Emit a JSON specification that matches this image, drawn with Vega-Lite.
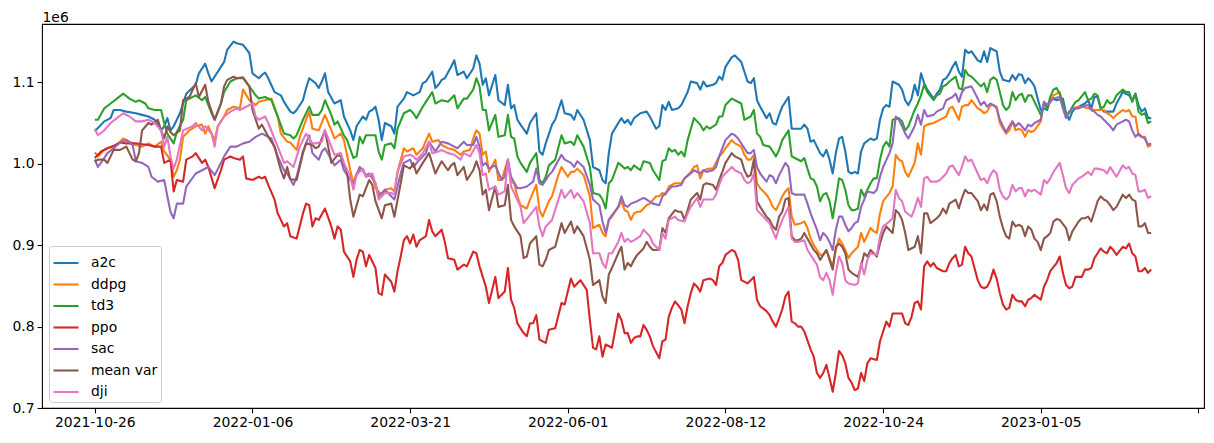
{
"$schema": "https://vega.github.io/schema/vega-lite/v6.json",
"width": 1162, "height": 384,
"autosize": "none",
"padding": {"left": 42, "top": 24, "right": 10, "bottom": 35},
"background": "white",
"config": {"view": {"stroke": "#000", "strokeWidth": 1.1}, "font": "DejaVu Sans"},
"data": {"values": [
{"s":"a2c","i":0,"v":1.040},{"s":"a2c","i":3,"v":1.052},{"s":"a2c","i":5,"v":1.056},{"s":"a2c","i":6,"v":1.066},{"s":"a2c","i":8,"v":1.066},{"s":"a2c","i":10,"v":1.064},{"s":"a2c","i":13,"v":1.062},{"s":"a2c","i":15,"v":1.060},{"s":"a2c","i":17,"v":1.058},{"s":"a2c","i":19,"v":1.054},{"s":"a2c","i":21,"v":1.041},{"s":"a2c","i":22,"v":1.046},{"s":"a2c","i":23,"v":1.056},{"s":"a2c","i":24,"v":1.041},{"s":"a2c","i":25,"v":1.046},{"s":"a2c","i":27,"v":1.062},{"s":"a2c","i":29,"v":1.086},{"s":"a2c","i":32,"v":1.097},{"s":"a2c","i":33,"v":1.111},{"s":"a2c","i":35,"v":1.123},{"s":"a2c","i":36,"v":1.111},{"s":"a2c","i":37,"v":1.101},{"s":"a2c","i":40,"v":1.119},{"s":"a2c","i":41,"v":1.125},{"s":"a2c","i":42,"v":1.140},{"s":"a2c","i":44,"v":1.150},{"s":"a2c","i":45,"v":1.148},{"s":"a2c","i":47,"v":1.146},{"s":"a2c","i":49,"v":1.136},{"s":"a2c","i":50,"v":1.111},{"s":"a2c","i":52,"v":1.105},{"s":"a2c","i":53,"v":1.109},{"s":"a2c","i":54,"v":1.112},{"s":"a2c","i":55,"v":1.105},{"s":"a2c","i":57,"v":1.088},{"s":"a2c","i":59,"v":1.084},{"s":"a2c","i":60,"v":1.076},{"s":"a2c","i":62,"v":1.064},{"s":"a2c","i":63,"v":1.062},{"s":"a2c","i":64,"v":1.066},{"s":"a2c","i":66,"v":1.078},{"s":"a2c","i":67,"v":1.093},{"s":"a2c","i":68,"v":1.105},{"s":"a2c","i":70,"v":1.099},{"s":"a2c","i":71,"v":1.093},{"s":"a2c","i":72,"v":1.101},{"s":"a2c","i":73,"v":1.111},{"s":"a2c","i":74,"v":1.088},{"s":"a2c","i":76,"v":1.074},{"s":"a2c","i":78,"v":1.078},{"s":"a2c","i":79,"v":1.058},{"s":"a2c","i":81,"v":1.041},{"s":"a2c","i":82,"v":1.029},{"s":"a2c","i":83,"v":1.046},{"s":"a2c","i":85,"v":1.058},{"s":"a2c","i":86,"v":1.054},{"s":"a2c","i":87,"v":1.064},{"s":"a2c","i":88,"v":1.066},{"s":"a2c","i":89,"v":1.070},{"s":"a2c","i":90,"v":1.054},{"s":"a2c","i":91,"v":1.029},{"s":"a2c","i":92,"v":1.050},{"s":"a2c","i":94,"v":1.046},{"s":"a2c","i":95,"v":1.037},{"s":"a2c","i":96,"v":1.070},{"s":"a2c","i":98,"v":1.080},{"s":"a2c","i":99,"v":1.088},{"s":"a2c","i":101,"v":1.084},{"s":"a2c","i":103,"v":1.088},{"s":"a2c","i":104,"v":1.099},{"s":"a2c","i":105,"v":1.101},{"s":"a2c","i":107,"v":1.113},{"s":"a2c","i":108,"v":1.093},{"s":"a2c","i":109,"v":1.097},{"s":"a2c","i":110,"v":1.103},{"s":"a2c","i":111,"v":1.105},{"s":"a2c","i":113,"v":1.119},{"s":"a2c","i":114,"v":1.127},{"s":"a2c","i":115,"v":1.109},{"s":"a2c","i":117,"v":1.113},{"s":"a2c","i":118,"v":1.105},{"s":"a2c","i":120,"v":1.117},{"s":"a2c","i":121,"v":1.133},{"s":"a2c","i":122,"v":1.123},{"s":"a2c","i":123,"v":1.097},{"s":"a2c","i":124,"v":1.105},{"s":"a2c","i":125,"v":1.084},{"s":"a2c","i":127,"v":1.109},{"s":"a2c","i":128,"v":1.078},{"s":"a2c","i":130,"v":1.072},{"s":"a2c","i":131,"v":1.097},{"s":"a2c","i":132,"v":1.068},{"s":"a2c","i":133,"v":1.072},{"s":"a2c","i":134,"v":1.054},{"s":"a2c","i":135,"v":1.048},{"s":"a2c","i":137,"v":1.037},{"s":"a2c","i":138,"v":1.050},{"s":"a2c","i":140,"v":1.062},{"s":"a2c","i":141,"v":1.015},{"s":"a2c","i":142,"v":1.011},{"s":"a2c","i":143,"v":1.025},{"s":"a2c","i":145,"v":1.048},{"s":"a2c","i":146,"v":1.054},{"s":"a2c","i":148,"v":1.078},{"s":"a2c","i":149,"v":1.062},{"s":"a2c","i":151,"v":1.060},{"s":"a2c","i":152,"v":1.054},{"s":"a2c","i":153,"v":1.066},{"s":"a2c","i":155,"v":1.054},{"s":"a2c","i":157,"v":1.029},{"s":"a2c","i":158,"v":0.996},{"s":"a2c","i":160,"v":0.992},{"s":"a2c","i":161,"v":0.980},{"s":"a2c","i":162,"v":0.976},{"s":"a2c","i":163,"v":1.013},{"s":"a2c","i":164,"v":1.037},{"s":"a2c","i":166,"v":1.050},{"s":"a2c","i":167,"v":1.056},{"s":"a2c","i":168,"v":1.050},{"s":"a2c","i":169,"v":1.054},{"s":"a2c","i":170,"v":1.048},{"s":"a2c","i":171,"v":1.056},{"s":"a2c","i":173,"v":1.062},{"s":"a2c","i":175,"v":1.064},{"s":"a2c","i":176,"v":1.058},{"s":"a2c","i":178,"v":1.043},{"s":"a2c","i":179,"v":1.046},{"s":"a2c","i":180,"v":1.072},{"s":"a2c","i":181,"v":1.066},{"s":"a2c","i":182,"v":1.076},{"s":"a2c","i":183,"v":1.066},{"s":"a2c","i":185,"v":1.068},{"s":"a2c","i":186,"v":1.072},{"s":"a2c","i":188,"v":1.088},{"s":"a2c","i":189,"v":1.101},{"s":"a2c","i":191,"v":1.099},{"s":"a2c","i":192,"v":1.091},{"s":"a2c","i":193,"v":1.101},{"s":"a2c","i":194,"v":1.095},{"s":"a2c","i":196,"v":1.097},{"s":"a2c","i":197,"v":1.099},{"s":"a2c","i":198,"v":1.107},{"s":"a2c","i":199,"v":1.103},{"s":"a2c","i":200,"v":1.119},{"s":"a2c","i":202,"v":1.131},{"s":"a2c","i":203,"v":1.133},{"s":"a2c","i":204,"v":1.129},{"s":"a2c","i":205,"v":1.125},{"s":"a2c","i":206,"v":1.113},{"s":"a2c","i":207,"v":1.101},{"s":"a2c","i":208,"v":1.099},{"s":"a2c","i":209,"v":1.105},{"s":"a2c","i":210,"v":1.078},{"s":"a2c","i":211,"v":1.070},{"s":"a2c","i":213,"v":1.056},{"s":"a2c","i":214,"v":1.062},{"s":"a2c","i":215,"v":1.050},{"s":"a2c","i":216,"v":1.048},{"s":"a2c","i":217,"v":1.060},{"s":"a2c","i":218,"v":1.070},{"s":"a2c","i":220,"v":1.082},{"s":"a2c","i":221,"v":1.043},{"s":"a2c","i":222,"v":1.043},{"s":"a2c","i":224,"v":1.043},{"s":"a2c","i":225,"v":1.048},{"s":"a2c","i":226,"v":1.043},{"s":"a2c","i":227,"v":1.027},{"s":"a2c","i":228,"v":1.029},{"s":"a2c","i":229,"v":1.021},{"s":"a2c","i":230,"v":1.013},{"s":"a2c","i":231,"v":1.009},{"s":"a2c","i":232,"v":1.017},{"s":"a2c","i":233,"v":1.005},{"s":"a2c","i":234,"v":0.988},{"s":"a2c","i":235,"v":1.013},{"s":"a2c","i":236,"v":1.031},{"s":"a2c","i":237,"v":1.033},{"s":"a2c","i":238,"v":1.015},{"s":"a2c","i":239,"v":0.990},{"s":"a2c","i":240,"v":0.988},{"s":"a2c","i":241,"v":0.990},{"s":"a2c","i":242,"v":0.988},{"s":"a2c","i":243,"v":1.015},{"s":"a2c","i":244,"v":1.025},{"s":"a2c","i":246,"v":1.031},{"s":"a2c","i":247,"v":1.029},{"s":"a2c","i":248,"v":1.031},{"s":"a2c","i":249,"v":1.054},{"s":"a2c","i":250,"v":1.068},{"s":"a2c","i":251,"v":1.072},{"s":"a2c","i":252,"v":1.070},{"s":"a2c","i":253,"v":1.101},{"s":"a2c","i":255,"v":1.097},{"s":"a2c","i":256,"v":1.091},{"s":"a2c","i":257,"v":1.078},{"s":"a2c","i":258,"v":1.072},{"s":"a2c","i":259,"v":1.080},{"s":"a2c","i":260,"v":1.097},{"s":"a2c","i":261,"v":1.084},{"s":"a2c","i":262,"v":1.111},{"s":"a2c","i":263,"v":1.099},{"s":"a2c","i":264,"v":1.091},{"s":"a2c","i":266,"v":1.080},{"s":"a2c","i":267,"v":1.086},{"s":"a2c","i":268,"v":1.091},{"s":"a2c","i":269,"v":1.103},{"s":"a2c","i":270,"v":1.105},{"s":"a2c","i":271,"v":1.111},{"s":"a2c","i":272,"v":1.119},{"s":"a2c","i":273,"v":1.125},{"s":"a2c","i":274,"v":1.113},{"s":"a2c","i":275,"v":1.107},{"s":"a2c","i":276,"v":1.140},{"s":"a2c","i":277,"v":1.136},{"s":"a2c","i":278,"v":1.138},{"s":"a2c","i":280,"v":1.127},{"s":"a2c","i":281,"v":1.125},{"s":"a2c","i":282,"v":1.138},{"s":"a2c","i":283,"v":1.125},{"s":"a2c","i":284,"v":1.142},{"s":"a2c","i":285,"v":1.140},{"s":"a2c","i":286,"v":1.138},{"s":"a2c","i":287,"v":1.113},{"s":"a2c","i":288,"v":1.103},{"s":"a2c","i":290,"v":1.101},{"s":"a2c","i":291,"v":1.109},{"s":"a2c","i":292,"v":1.103},{"s":"a2c","i":293,"v":1.110},{"s":"a2c","i":294,"v":1.109},{"s":"a2c","i":295,"v":1.099},{"s":"a2c","i":296,"v":1.105},{"s":"a2c","i":297,"v":1.101},{"s":"a2c","i":298,"v":1.095},{"s":"a2c","i":299,"v":1.080},{"s":"a2c","i":300,"v":1.066},{"s":"a2c","i":301,"v":1.068},{"s":"a2c","i":302,"v":1.066},{"s":"a2c","i":303,"v":1.078},{"s":"a2c","i":304,"v":1.080},{"s":"a2c","i":305,"v":1.078},{"s":"a2c","i":307,"v":1.080},{"s":"a2c","i":308,"v":1.062},{"s":"a2c","i":309,"v":1.054},{"s":"a2c","i":310,"v":1.064},{"s":"a2c","i":311,"v":1.068},{"s":"a2c","i":312,"v":1.070},{"s":"a2c","i":314,"v":1.074},{"s":"a2c","i":315,"v":1.078},{"s":"a2c","i":316,"v":1.068},{"s":"a2c","i":317,"v":1.082},{"s":"a2c","i":318,"v":1.082},{"s":"a2c","i":319,"v":1.068},{"s":"a2c","i":320,"v":1.064},{"s":"a2c","i":321,"v":1.064},{"s":"a2c","i":322,"v":1.064},{"s":"a2c","i":323,"v":1.064},{"s":"a2c","i":324,"v":1.074},{"s":"a2c","i":326,"v":1.088},{"s":"a2c","i":327,"v":1.086},{"s":"a2c","i":328,"v":1.084},{"s":"a2c","i":329,"v":1.078},{"s":"a2c","i":330,"v":1.086},{"s":"a2c","i":331,"v":1.072},{"s":"a2c","i":332,"v":1.064},{"s":"a2c","i":333,"v":1.068},{"s":"a2c","i":334,"v":1.056},{"s":"a2c","i":335,"v":1.056},

{"s":"ddpg","i":0,"v":1.014},{"s":"ddpg","i":1,"v":1.009},{"s":"ddpg","i":3,"v":1.017},{"s":"ddpg","i":4,"v":1.019},{"s":"ddpg","i":6,"v":1.021},{"s":"ddpg","i":8,"v":1.027},{"s":"ddpg","i":9,"v":1.031},{"s":"ddpg","i":11,"v":1.027},{"s":"ddpg","i":13,"v":1.023},{"s":"ddpg","i":15,"v":1.021},{"s":"ddpg","i":17,"v":1.025},{"s":"ddpg","i":19,"v":1.021},{"s":"ddpg","i":21,"v":1.027},{"s":"ddpg","i":22,"v":1.015},{"s":"ddpg","i":24,"v":1.005},{"s":"ddpg","i":25,"v":0.984},{"s":"ddpg","i":26,"v":0.992},{"s":"ddpg","i":27,"v":1.005},{"s":"ddpg","i":28,"v":1.033},{"s":"ddpg","i":30,"v":1.041},{"s":"ddpg","i":32,"v":1.046},{"s":"ddpg","i":34,"v":1.048},{"s":"ddpg","i":35,"v":1.037},{"s":"ddpg","i":36,"v":1.046},{"s":"ddpg","i":38,"v":1.029},{"s":"ddpg","i":39,"v":1.046},{"s":"ddpg","i":41,"v":1.058},{"s":"ddpg","i":42,"v":1.066},{"s":"ddpg","i":44,"v":1.070},{"s":"ddpg","i":46,"v":1.068},{"s":"ddpg","i":47,"v":1.091},{"s":"ddpg","i":49,"v":1.078},{"s":"ddpg","i":51,"v":1.072},{"s":"ddpg","i":52,"v":1.076},{"s":"ddpg","i":54,"v":1.078},{"s":"ddpg","i":56,"v":1.080},{"s":"ddpg","i":58,"v":1.058},{"s":"ddpg","i":59,"v":1.037},{"s":"ddpg","i":61,"v":1.027},{"s":"ddpg","i":62,"v":1.026},{"s":"ddpg","i":64,"v":1.017},{"s":"ddpg","i":65,"v":1.033},{"s":"ddpg","i":67,"v":1.054},{"s":"ddpg","i":68,"v":1.064},{"s":"ddpg","i":69,"v":1.043},{"s":"ddpg","i":71,"v":1.041},{"s":"ddpg","i":73,"v":1.060},{"s":"ddpg","i":75,"v":1.041},{"s":"ddpg","i":76,"v":1.031},{"s":"ddpg","i":78,"v":1.037},{"s":"ddpg","i":79,"v":1.029},{"s":"ddpg","i":81,"v":0.992},{"s":"ddpg","i":82,"v":0.976},{"s":"ddpg","i":83,"v":0.988},{"s":"ddpg","i":85,"v":0.994},{"s":"ddpg","i":86,"v":0.984},{"s":"ddpg","i":88,"v":0.986},{"s":"ddpg","i":89,"v":0.970},{"s":"ddpg","i":91,"v":0.962},{"s":"ddpg","i":92,"v":0.968},{"s":"ddpg","i":94,"v":0.970},{"s":"ddpg","i":95,"v":0.966},{"s":"ddpg","i":96,"v":0.990},{"s":"ddpg","i":98,"v":1.019},{"s":"ddpg","i":99,"v":1.015},{"s":"ddpg","i":101,"v":1.019},{"s":"ddpg","i":102,"v":1.011},{"s":"ddpg","i":104,"v":1.019},{"s":"ddpg","i":106,"v":1.037},{"s":"ddpg","i":107,"v":1.027},{"s":"ddpg","i":109,"v":1.029},{"s":"ddpg","i":110,"v":1.023},{"s":"ddpg","i":112,"v":1.019},{"s":"ddpg","i":114,"v":1.017},{"s":"ddpg","i":116,"v":1.011},{"s":"ddpg","i":117,"v":1.015},{"s":"ddpg","i":119,"v":1.017},{"s":"ddpg","i":120,"v":1.031},{"s":"ddpg","i":121,"v":1.041},{"s":"ddpg","i":122,"v":1.037},{"s":"ddpg","i":123,"v":1.011},{"s":"ddpg","i":124,"v":1.015},{"s":"ddpg","i":125,"v":0.990},{"s":"ddpg","i":127,"v":1.005},{"s":"ddpg","i":128,"v":0.980},{"s":"ddpg","i":129,"v":0.980},{"s":"ddpg","i":131,"v":1.005},{"s":"ddpg","i":132,"v":0.978},{"s":"ddpg","i":133,"v":0.976},{"s":"ddpg","i":134,"v":0.960},{"s":"ddpg","i":135,"v":0.949},{"s":"ddpg","i":137,"v":0.945},{"s":"ddpg","i":138,"v":0.956},{"s":"ddpg","i":140,"v":0.974},{"s":"ddpg","i":141,"v":0.943},{"s":"ddpg","i":142,"v":0.935},{"s":"ddpg","i":144,"v":0.954},{"s":"ddpg","i":145,"v":0.960},{"s":"ddpg","i":147,"v":0.986},{"s":"ddpg","i":148,"v":0.996},{"s":"ddpg","i":150,"v":0.984},{"s":"ddpg","i":151,"v":0.990},{"s":"ddpg","i":152,"v":0.990},{"s":"ddpg","i":153,"v":0.994},{"s":"ddpg","i":155,"v":0.986},{"s":"ddpg","i":157,"v":0.960},{"s":"ddpg","i":158,"v":0.921},{"s":"ddpg","i":160,"v":0.925},{"s":"ddpg","i":161,"v":0.915},{"s":"ddpg","i":162,"v":0.911},{"s":"ddpg","i":163,"v":0.931},{"s":"ddpg","i":164,"v":0.935},{"s":"ddpg","i":166,"v":0.947},{"s":"ddpg","i":167,"v":0.954},{"s":"ddpg","i":168,"v":0.943},{"s":"ddpg","i":169,"v":0.941},{"s":"ddpg","i":170,"v":0.931},{"s":"ddpg","i":171,"v":0.939},{"s":"ddpg","i":172,"v":0.941},{"s":"ddpg","i":173,"v":0.941},{"s":"ddpg","i":175,"v":0.949},{"s":"ddpg","i":176,"v":0.951},{"s":"ddpg","i":178,"v":0.960},{"s":"ddpg","i":179,"v":0.960},{"s":"ddpg","i":180,"v":0.964},{"s":"ddpg","i":181,"v":0.962},{"s":"ddpg","i":182,"v":0.972},{"s":"ddpg","i":183,"v":0.974},{"s":"ddpg","i":184,"v":0.976},{"s":"ddpg","i":186,"v":0.976},{"s":"ddpg","i":187,"v":0.982},{"s":"ddpg","i":189,"v":0.990},{"s":"ddpg","i":190,"v":0.996},{"s":"ddpg","i":191,"v":0.998},{"s":"ddpg","i":192,"v":0.982},{"s":"ddpg","i":193,"v":0.992},{"s":"ddpg","i":195,"v":0.994},{"s":"ddpg","i":196,"v":0.994},{"s":"ddpg","i":198,"v":1.009},{"s":"ddpg","i":199,"v":1.013},{"s":"ddpg","i":200,"v":1.019},{"s":"ddpg","i":202,"v":1.029},{"s":"ddpg","i":203,"v":1.025},{"s":"ddpg","i":205,"v":1.021},{"s":"ddpg","i":206,"v":1.011},{"s":"ddpg","i":207,"v":1.005},{"s":"ddpg","i":208,"v":1.005},{"s":"ddpg","i":209,"v":1.011},{"s":"ddpg","i":210,"v":0.976},{"s":"ddpg","i":211,"v":0.970},{"s":"ddpg","i":213,"v":0.962},{"s":"ddpg","i":214,"v":0.956},{"s":"ddpg","i":215,"v":0.947},{"s":"ddpg","i":216,"v":0.943},{"s":"ddpg","i":217,"v":0.951},{"s":"ddpg","i":218,"v":0.960},{"s":"ddpg","i":219,"v":0.966},{"s":"ddpg","i":220,"v":0.970},{"s":"ddpg","i":221,"v":0.935},{"s":"ddpg","i":222,"v":0.925},{"s":"ddpg","i":224,"v":0.927},{"s":"ddpg","i":225,"v":0.929},{"s":"ddpg","i":226,"v":0.921},{"s":"ddpg","i":227,"v":0.908},{"s":"ddpg","i":228,"v":0.900},{"s":"ddpg","i":229,"v":0.894},{"s":"ddpg","i":230,"v":0.888},{"s":"ddpg","i":231,"v":0.888},{"s":"ddpg","i":232,"v":0.894},{"s":"ddpg","i":233,"v":0.884},{"s":"ddpg","i":234,"v":0.874},{"s":"ddpg","i":235,"v":0.894},{"s":"ddpg","i":236,"v":0.908},{"s":"ddpg","i":237,"v":0.902},{"s":"ddpg","i":238,"v":0.894},{"s":"ddpg","i":239,"v":0.884},{"s":"ddpg","i":240,"v":0.890},{"s":"ddpg","i":241,"v":0.894},{"s":"ddpg","i":242,"v":0.898},{"s":"ddpg","i":243,"v":0.915},{"s":"ddpg","i":244,"v":0.904},{"s":"ddpg","i":246,"v":0.921},{"s":"ddpg","i":247,"v":0.917},{"s":"ddpg","i":248,"v":0.915},{"s":"ddpg","i":249,"v":0.939},{"s":"ddpg","i":250,"v":0.954},{"s":"ddpg","i":252,"v":0.964},{"s":"ddpg","i":253,"v":0.972},{"s":"ddpg","i":254,"v":1.011},{"s":"ddpg","i":255,"v":1.005},{"s":"ddpg","i":256,"v":1.003},{"s":"ddpg","i":257,"v":0.990},{"s":"ddpg","i":258,"v":0.984},{"s":"ddpg","i":260,"v":1.001},{"s":"ddpg","i":261,"v":1.025},{"s":"ddpg","i":262,"v":1.011},{"s":"ddpg","i":263,"v":1.046},{"s":"ddpg","i":264,"v":1.048},{"s":"ddpg","i":266,"v":1.050},{"s":"ddpg","i":267,"v":1.052},{"s":"ddpg","i":269,"v":1.056},{"s":"ddpg","i":270,"v":1.058},{"s":"ddpg","i":271,"v":1.068},{"s":"ddpg","i":272,"v":1.070},{"s":"ddpg","i":274,"v":1.054},{"s":"ddpg","i":275,"v":1.070},{"s":"ddpg","i":276,"v":1.072},{"s":"ddpg","i":277,"v":1.072},{"s":"ddpg","i":278,"v":1.078},{"s":"ddpg","i":280,"v":1.068},{"s":"ddpg","i":281,"v":1.066},{"s":"ddpg","i":282,"v":1.062},{"s":"ddpg","i":283,"v":1.064},{"s":"ddpg","i":284,"v":1.072},{"s":"ddpg","i":285,"v":1.072},{"s":"ddpg","i":286,"v":1.070},{"s":"ddpg","i":287,"v":1.050},{"s":"ddpg","i":288,"v":1.043},{"s":"ddpg","i":289,"v":1.037},{"s":"ddpg","i":290,"v":1.041},{"s":"ddpg","i":291,"v":1.052},{"s":"ddpg","i":292,"v":1.041},{"s":"ddpg","i":293,"v":1.043},{"s":"ddpg","i":294,"v":1.041},{"s":"ddpg","i":295,"v":1.033},{"s":"ddpg","i":296,"v":1.041},{"s":"ddpg","i":297,"v":1.039},{"s":"ddpg","i":298,"v":1.041},{"s":"ddpg","i":300,"v":1.052},{"s":"ddpg","i":301,"v":1.076},{"s":"ddpg","i":302,"v":1.070},{"s":"ddpg","i":303,"v":1.076},{"s":"ddpg","i":304,"v":1.084},{"s":"ddpg","i":306,"v":1.088},{"s":"ddpg","i":307,"v":1.072},{"s":"ddpg","i":308,"v":1.058},{"s":"ddpg","i":309,"v":1.064},{"s":"ddpg","i":310,"v":1.068},{"s":"ddpg","i":312,"v":1.070},{"s":"ddpg","i":313,"v":1.070},{"s":"ddpg","i":315,"v":1.068},{"s":"ddpg","i":317,"v":1.066},{"s":"ddpg","i":318,"v":1.066},{"s":"ddpg","i":320,"v":1.066},{"s":"ddpg","i":321,"v":1.062},{"s":"ddpg","i":322,"v":1.060},{"s":"ddpg","i":323,"v":1.056},{"s":"ddpg","i":324,"v":1.060},{"s":"ddpg","i":326,"v":1.066},{"s":"ddpg","i":327,"v":1.064},{"s":"ddpg","i":328,"v":1.066},{"s":"ddpg","i":329,"v":1.058},{"s":"ddpg","i":330,"v":1.058},{"s":"ddpg","i":331,"v":1.035},{"s":"ddpg","i":332,"v":1.033},{"s":"ddpg","i":333,"v":1.033},{"s":"ddpg","i":334,"v":1.021},{"s":"ddpg","i":335,"v":1.023},

{"s":"td3","i":0,"v":1.054},{"s":"td3","i":1,"v":1.054},{"s":"td3","i":3,"v":1.068},{"s":"td3","i":5,"v":1.074},{"s":"td3","i":7,"v":1.080},{"s":"td3","i":9,"v":1.086},{"s":"td3","i":11,"v":1.080},{"s":"td3","i":13,"v":1.076},{"s":"td3","i":14,"v":1.078},{"s":"td3","i":16,"v":1.074},{"s":"td3","i":17,"v":1.068},{"s":"td3","i":19,"v":1.066},{"s":"td3","i":21,"v":1.066},{"s":"td3","i":22,"v":1.050},{"s":"td3","i":23,"v":1.037},{"s":"td3","i":25,"v":1.025},{"s":"td3","i":26,"v":1.039},{"s":"td3","i":28,"v":1.054},{"s":"td3","i":29,"v":1.078},{"s":"td3","i":32,"v":1.084},{"s":"td3","i":34,"v":1.078},{"s":"td3","i":35,"v":1.082},{"s":"td3","i":37,"v":1.062},{"s":"td3","i":38,"v":1.054},{"s":"td3","i":40,"v":1.074},{"s":"td3","i":41,"v":1.088},{"s":"td3","i":43,"v":1.101},{"s":"td3","i":45,"v":1.105},{"s":"td3","i":47,"v":1.105},{"s":"td3","i":49,"v":1.095},{"s":"td3","i":51,"v":1.084},{"s":"td3","i":52,"v":1.080},{"s":"td3","i":54,"v":1.082},{"s":"td3","i":56,"v":1.078},{"s":"td3","i":58,"v":1.058},{"s":"td3","i":60,"v":1.037},{"s":"td3","i":62,"v":1.035},{"s":"td3","i":63,"v":1.031},{"s":"td3","i":64,"v":1.035},{"s":"td3","i":66,"v":1.054},{"s":"td3","i":68,"v":1.070},{"s":"td3","i":69,"v":1.060},{"s":"td3","i":71,"v":1.060},{"s":"td3","i":72,"v":1.066},{"s":"td3","i":73,"v":1.078},{"s":"td3","i":75,"v":1.060},{"s":"td3","i":76,"v":1.048},{"s":"td3","i":77,"v":1.052},{"s":"td3","i":79,"v":1.035},{"s":"td3","i":80,"v":1.029},{"s":"td3","i":82,"v":1.007},{"s":"td3","i":83,"v":1.009},{"s":"td3","i":84,"v":1.033},{"s":"td3","i":85,"v":1.025},{"s":"td3","i":86,"v":1.035},{"s":"td3","i":88,"v":1.035},{"s":"td3","i":89,"v":1.035},{"s":"td3","i":90,"v":1.015},{"s":"td3","i":91,"v":1.005},{"s":"td3","i":92,"v":1.023},{"s":"td3","i":94,"v":1.025},{"s":"td3","i":95,"v":1.019},{"s":"td3","i":96,"v":1.043},{"s":"td3","i":98,"v":1.062},{"s":"td3","i":100,"v":1.066},{"s":"td3","i":101,"v":1.062},{"s":"td3","i":102,"v":1.056},{"s":"td3","i":104,"v":1.070},{"s":"td3","i":105,"v":1.076},{"s":"td3","i":107,"v":1.088},{"s":"td3","i":108,"v":1.074},{"s":"td3","i":109,"v":1.076},{"s":"td3","i":110,"v":1.078},{"s":"td3","i":112,"v":1.076},{"s":"td3","i":113,"v":1.080},{"s":"td3","i":114,"v":1.084},{"s":"td3","i":115,"v":1.068},{"s":"td3","i":117,"v":1.080},{"s":"td3","i":118,"v":1.080},{"s":"td3","i":120,"v":1.091},{"s":"td3","i":121,"v":1.105},{"s":"td3","i":122,"v":1.095},{"s":"td3","i":123,"v":1.066},{"s":"td3","i":124,"v":1.066},{"s":"td3","i":125,"v":1.041},{"s":"td3","i":127,"v":1.060},{"s":"td3","i":128,"v":1.033},{"s":"td3","i":130,"v":1.035},{"s":"td3","i":131,"v":1.060},{"s":"td3","i":132,"v":1.033},{"s":"td3","i":133,"v":1.031},{"s":"td3","i":134,"v":1.009},{"s":"td3","i":135,"v":1.001},{"s":"td3","i":137,"v":0.990},{"s":"td3","i":138,"v":1.001},{"s":"td3","i":140,"v":1.013},{"s":"td3","i":141,"v":0.980},{"s":"td3","i":142,"v":0.976},{"s":"td3","i":143,"v":0.984},{"s":"td3","i":144,"v":0.998},{"s":"td3","i":146,"v":1.005},{"s":"td3","i":148,"v":1.035},{"s":"td3","i":149,"v":1.025},{"s":"td3","i":151,"v":1.027},{"s":"td3","i":152,"v":1.023},{"s":"td3","i":153,"v":1.035},{"s":"td3","i":155,"v":1.021},{"s":"td3","i":157,"v":0.996},{"s":"td3","i":158,"v":0.964},{"s":"td3","i":160,"v":0.962},{"s":"td3","i":161,"v":0.956},{"s":"td3","i":162,"v":0.945},{"s":"td3","i":163,"v":0.976},{"s":"td3","i":164,"v":0.980},{"s":"td3","i":166,"v":1.001},{"s":"td3","i":167,"v":0.998},{"s":"td3","i":168,"v":0.994},{"s":"td3","i":169,"v":0.996},{"s":"td3","i":170,"v":0.992},{"s":"td3","i":171,"v":0.998},{"s":"td3","i":173,"v":0.992},{"s":"td3","i":174,"v":1.003},{"s":"td3","i":176,"v":1.001},{"s":"td3","i":177,"v":0.992},{"s":"td3","i":179,"v":0.980},{"s":"td3","i":180,"v":1.003},{"s":"td3","i":181,"v":1.005},{"s":"td3","i":182,"v":1.019},{"s":"td3","i":183,"v":1.015},{"s":"td3","i":184,"v":1.017},{"s":"td3","i":185,"v":1.011},{"s":"td3","i":186,"v":1.015},{"s":"td3","i":187,"v":1.009},{"s":"td3","i":188,"v":1.029},{"s":"td3","i":190,"v":1.056},{"s":"td3","i":192,"v":1.048},{"s":"td3","i":193,"v":1.041},{"s":"td3","i":194,"v":1.046},{"s":"td3","i":195,"v":1.043},{"s":"td3","i":197,"v":1.048},{"s":"td3","i":198,"v":1.058},{"s":"td3","i":199,"v":1.058},{"s":"td3","i":200,"v":1.072},{"s":"td3","i":202,"v":1.080},{"s":"td3","i":203,"v":1.078},{"s":"td3","i":205,"v":1.074},{"s":"td3","i":206,"v":1.054},{"s":"td3","i":208,"v":1.058},{"s":"td3","i":209,"v":1.066},{"s":"td3","i":210,"v":1.037},{"s":"td3","i":211,"v":1.033},{"s":"td3","i":212,"v":1.023},{"s":"td3","i":214,"v":1.021},{"s":"td3","i":215,"v":1.015},{"s":"td3","i":216,"v":1.009},{"s":"td3","i":217,"v":1.017},{"s":"td3","i":218,"v":1.029},{"s":"td3","i":220,"v":1.041},{"s":"td3","i":221,"v":1.009},{"s":"td3","i":222,"v":1.007},{"s":"td3","i":224,"v":1.003},{"s":"td3","i":225,"v":1.007},{"s":"td3","i":226,"v":0.994},{"s":"td3","i":227,"v":0.982},{"s":"td3","i":228,"v":0.980},{"s":"td3","i":229,"v":0.972},{"s":"td3","i":230,"v":0.954},{"s":"td3","i":231,"v":0.962},{"s":"td3","i":232,"v":0.964},{"s":"td3","i":233,"v":0.954},{"s":"td3","i":234,"v":0.933},{"s":"td3","i":235,"v":0.956},{"s":"td3","i":236,"v":0.982},{"s":"td3","i":237,"v":0.980},{"s":"td3","i":238,"v":0.968},{"s":"td3","i":239,"v":0.949},{"s":"td3","i":240,"v":0.943},{"s":"td3","i":241,"v":0.943},{"s":"td3","i":242,"v":0.945},{"s":"td3","i":243,"v":0.968},{"s":"td3","i":244,"v":0.960},{"s":"td3","i":246,"v":0.976},{"s":"td3","i":247,"v":0.982},{"s":"td3","i":248,"v":0.982},{"s":"td3","i":249,"v":1.005},{"s":"td3","i":250,"v":1.021},{"s":"td3","i":251,"v":1.027},{"s":"td3","i":252,"v":1.021},{"s":"td3","i":253,"v":1.054},{"s":"td3","i":255,"v":1.056},{"s":"td3","i":256,"v":1.052},{"s":"td3","i":257,"v":1.041},{"s":"td3","i":258,"v":1.046},{"s":"td3","i":260,"v":1.066},{"s":"td3","i":261,"v":1.074},{"s":"td3","i":262,"v":1.084},{"s":"td3","i":263,"v":1.097},{"s":"td3","i":264,"v":1.088},{"s":"td3","i":266,"v":1.078},{"s":"td3","i":267,"v":1.084},{"s":"td3","i":268,"v":1.086},{"s":"td3","i":269,"v":1.095},{"s":"td3","i":270,"v":1.097},{"s":"td3","i":271,"v":1.101},{"s":"td3","i":273,"v":1.107},{"s":"td3","i":274,"v":1.093},{"s":"td3","i":275,"v":1.091},{"s":"td3","i":276,"v":1.115},{"s":"td3","i":277,"v":1.109},{"s":"td3","i":278,"v":1.107},{"s":"td3","i":280,"v":1.099},{"s":"td3","i":281,"v":1.095},{"s":"td3","i":282,"v":1.099},{"s":"td3","i":283,"v":1.088},{"s":"td3","i":284,"v":1.103},{"s":"td3","i":285,"v":1.106},{"s":"td3","i":286,"v":1.103},{"s":"td3","i":287,"v":1.088},{"s":"td3","i":288,"v":1.072},{"s":"td3","i":289,"v":1.066},{"s":"td3","i":290,"v":1.070},{"s":"td3","i":291,"v":1.088},{"s":"td3","i":292,"v":1.078},{"s":"td3","i":293,"v":1.084},{"s":"td3","i":294,"v":1.086},{"s":"td3","i":295,"v":1.076},{"s":"td3","i":296,"v":1.084},{"s":"td3","i":297,"v":1.084},{"s":"td3","i":298,"v":1.076},{"s":"td3","i":300,"v":1.060},{"s":"td3","i":301,"v":1.074},{"s":"td3","i":302,"v":1.068},{"s":"td3","i":303,"v":1.082},{"s":"td3","i":304,"v":1.091},{"s":"td3","i":305,"v":1.093},{"s":"td3","i":306,"v":1.086},{"s":"td3","i":307,"v":1.072},{"s":"td3","i":308,"v":1.060},{"s":"td3","i":309,"v":1.062},{"s":"td3","i":310,"v":1.070},{"s":"td3","i":311,"v":1.076},{"s":"td3","i":312,"v":1.078},{"s":"td3","i":314,"v":1.088},{"s":"td3","i":315,"v":1.078},{"s":"td3","i":316,"v":1.080},{"s":"td3","i":317,"v":1.086},{"s":"td3","i":318,"v":1.084},{"s":"td3","i":319,"v":1.068},{"s":"td3","i":320,"v":1.070},{"s":"td3","i":321,"v":1.078},{"s":"td3","i":322,"v":1.074},{"s":"td3","i":323,"v":1.076},{"s":"td3","i":324,"v":1.084},{"s":"td3","i":326,"v":1.091},{"s":"td3","i":327,"v":1.088},{"s":"td3","i":328,"v":1.088},{"s":"td3","i":329,"v":1.076},{"s":"td3","i":330,"v":1.086},{"s":"td3","i":331,"v":1.064},{"s":"td3","i":332,"v":1.060},{"s":"td3","i":333,"v":1.062},{"s":"td3","i":334,"v":1.050},{"s":"td3","i":335,"v":1.052},

{"s":"ppo","i":0,"v":1.007},{"s":"ppo","i":2,"v":1.015},{"s":"ppo","i":4,"v":1.019},{"s":"ppo","i":6,"v":1.022},{"s":"ppo","i":8,"v":1.026},{"s":"ppo","i":10,"v":1.025},{"s":"ppo","i":13,"v":1.025},{"s":"ppo","i":15,"v":1.024},{"s":"ppo","i":17,"v":1.023},{"s":"ppo","i":19,"v":1.021},{"s":"ppo","i":21,"v":1.021},{"s":"ppo","i":22,"v":1.001},{"s":"ppo","i":24,"v":1.005},{"s":"ppo","i":25,"v":0.966},{"s":"ppo","i":26,"v":0.980},{"s":"ppo","i":28,"v":0.978},{"s":"ppo","i":29,"v":1.005},{"s":"ppo","i":31,"v":1.009},{"s":"ppo","i":32,"v":1.013},{"s":"ppo","i":34,"v":1.001},{"s":"ppo","i":35,"v":1.005},{"s":"ppo","i":36,"v":0.996},{"s":"ppo","i":38,"v":0.970},{"s":"ppo","i":40,"v":0.992},{"s":"ppo","i":41,"v":1.005},{"s":"ppo","i":43,"v":1.009},{"s":"ppo","i":44,"v":1.007},{"s":"ppo","i":46,"v":1.005},{"s":"ppo","i":47,"v":1.009},{"s":"ppo","i":48,"v":0.982},{"s":"ppo","i":50,"v":0.980},{"s":"ppo","i":52,"v":0.984},{"s":"ppo","i":53,"v":0.982},{"s":"ppo","i":54,"v":0.984},{"s":"ppo","i":55,"v":0.974},{"s":"ppo","i":57,"v":0.956},{"s":"ppo","i":58,"v":0.939},{"s":"ppo","i":60,"v":0.923},{"s":"ppo","i":61,"v":0.927},{"s":"ppo","i":62,"v":0.911},{"s":"ppo","i":64,"v":0.908},{"s":"ppo","i":66,"v":0.939},{"s":"ppo","i":67,"v":0.951},{"s":"ppo","i":68,"v":0.949},{"s":"ppo","i":69,"v":0.923},{"s":"ppo","i":70,"v":0.933},{"s":"ppo","i":71,"v":0.931},{"s":"ppo","i":73,"v":0.945},{"s":"ppo","i":75,"v":0.923},{"s":"ppo","i":76,"v":0.908},{"s":"ppo","i":77,"v":0.923},{"s":"ppo","i":78,"v":0.919},{"s":"ppo","i":79,"v":0.892},{"s":"ppo","i":81,"v":0.880},{"s":"ppo","i":82,"v":0.861},{"s":"ppo","i":83,"v":0.882},{"s":"ppo","i":84,"v":0.894},{"s":"ppo","i":85,"v":0.892},{"s":"ppo","i":86,"v":0.874},{"s":"ppo","i":87,"v":0.888},{"s":"ppo","i":88,"v":0.880},{"s":"ppo","i":89,"v":0.872},{"s":"ppo","i":90,"v":0.841},{"s":"ppo","i":91,"v":0.839},{"s":"ppo","i":92,"v":0.864},{"s":"ppo","i":94,"v":0.855},{"s":"ppo","i":95,"v":0.843},{"s":"ppo","i":96,"v":0.868},{"s":"ppo","i":97,"v":0.886},{"s":"ppo","i":98,"v":0.906},{"s":"ppo","i":99,"v":0.911},{"s":"ppo","i":100,"v":0.902},{"s":"ppo","i":101,"v":0.913},{"s":"ppo","i":102,"v":0.898},{"s":"ppo","i":103,"v":0.906},{"s":"ppo","i":105,"v":0.911},{"s":"ppo","i":106,"v":0.931},{"s":"ppo","i":107,"v":0.917},{"s":"ppo","i":108,"v":0.911},{"s":"ppo","i":110,"v":0.919},{"s":"ppo","i":111,"v":0.904},{"s":"ppo","i":112,"v":0.884},{"s":"ppo","i":114,"v":0.882},{"s":"ppo","i":115,"v":0.870},{"s":"ppo","i":117,"v":0.876},{"s":"ppo","i":118,"v":0.874},{"s":"ppo","i":120,"v":0.892},{"s":"ppo","i":121,"v":0.890},{"s":"ppo","i":122,"v":0.874},{"s":"ppo","i":124,"v":0.849},{"s":"ppo","i":125,"v":0.829},{"s":"ppo","i":126,"v":0.845},{"s":"ppo","i":127,"v":0.861},{"s":"ppo","i":128,"v":0.835},{"s":"ppo","i":130,"v":0.843},{"s":"ppo","i":131,"v":0.872},{"s":"ppo","i":132,"v":0.833},{"s":"ppo","i":133,"v":0.823},{"s":"ppo","i":134,"v":0.804},{"s":"ppo","i":136,"v":0.792},{"s":"ppo","i":137,"v":0.788},{"s":"ppo","i":138,"v":0.804},{"s":"ppo","i":139,"v":0.804},{"s":"ppo","i":140,"v":0.814},{"s":"ppo","i":141,"v":0.784},{"s":"ppo","i":143,"v":0.780},{"s":"ppo","i":144,"v":0.796},{"s":"ppo","i":146,"v":0.798},{"s":"ppo","i":148,"v":0.829},{"s":"ppo","i":149,"v":0.827},{"s":"ppo","i":151,"v":0.859},{"s":"ppo","i":152,"v":0.849},{"s":"ppo","i":154,"v":0.857},{"s":"ppo","i":156,"v":0.845},{"s":"ppo","i":157,"v":0.808},{"s":"ppo","i":158,"v":0.774},{"s":"ppo","i":159,"v":0.772},{"s":"ppo","i":160,"v":0.788},{"s":"ppo","i":161,"v":0.763},{"s":"ppo","i":162,"v":0.778},{"s":"ppo","i":164,"v":0.774},{"s":"ppo","i":166,"v":0.816},{"s":"ppo","i":167,"v":0.808},{"s":"ppo","i":168,"v":0.792},{"s":"ppo","i":169,"v":0.792},{"s":"ppo","i":170,"v":0.780},{"s":"ppo","i":171,"v":0.786},{"s":"ppo","i":172,"v":0.788},{"s":"ppo","i":173,"v":0.788},{"s":"ppo","i":174,"v":0.802},{"s":"ppo","i":175,"v":0.796},{"s":"ppo","i":176,"v":0.788},{"s":"ppo","i":177,"v":0.776},{"s":"ppo","i":179,"v":0.761},{"s":"ppo","i":180,"v":0.782},{"s":"ppo","i":181,"v":0.784},{"s":"ppo","i":182,"v":0.812},{"s":"ppo","i":183,"v":0.823},{"s":"ppo","i":184,"v":0.831},{"s":"ppo","i":186,"v":0.821},{"s":"ppo","i":187,"v":0.804},{"s":"ppo","i":188,"v":0.825},{"s":"ppo","i":189,"v":0.841},{"s":"ppo","i":190,"v":0.853},{"s":"ppo","i":191,"v":0.849},{"s":"ppo","i":192,"v":0.843},{"s":"ppo","i":193,"v":0.857},{"s":"ppo","i":195,"v":0.859},{"s":"ppo","i":196,"v":0.857},{"s":"ppo","i":197,"v":0.851},{"s":"ppo","i":198,"v":0.874},{"s":"ppo","i":199,"v":0.878},{"s":"ppo","i":200,"v":0.888},{"s":"ppo","i":202,"v":0.894},{"s":"ppo","i":203,"v":0.892},{"s":"ppo","i":204,"v":0.882},{"s":"ppo","i":205,"v":0.857},{"s":"ppo","i":207,"v":0.853},{"s":"ppo","i":208,"v":0.857},{"s":"ppo","i":209,"v":0.861},{"s":"ppo","i":210,"v":0.833},{"s":"ppo","i":211,"v":0.825},{"s":"ppo","i":213,"v":0.819},{"s":"ppo","i":214,"v":0.814},{"s":"ppo","i":215,"v":0.806},{"s":"ppo","i":216,"v":0.800},{"s":"ppo","i":217,"v":0.810},{"s":"ppo","i":218,"v":0.821},{"s":"ppo","i":219,"v":0.837},{"s":"ppo","i":220,"v":0.843},{"s":"ppo","i":221,"v":0.806},{"s":"ppo","i":222,"v":0.804},{"s":"ppo","i":223,"v":0.800},{"s":"ppo","i":224,"v":0.800},{"s":"ppo","i":225,"v":0.794},{"s":"ppo","i":227,"v":0.772},{"s":"ppo","i":228,"v":0.763},{"s":"ppo","i":229,"v":0.743},{"s":"ppo","i":230,"v":0.737},{"s":"ppo","i":231,"v":0.743},{"s":"ppo","i":232,"v":0.753},{"s":"ppo","i":233,"v":0.737},{"s":"ppo","i":234,"v":0.720},{"s":"ppo","i":235,"v":0.743},{"s":"ppo","i":236,"v":0.770},{"s":"ppo","i":237,"v":0.765},{"s":"ppo","i":238,"v":0.755},{"s":"ppo","i":239,"v":0.737},{"s":"ppo","i":240,"v":0.731},{"s":"ppo","i":241,"v":0.722},{"s":"ppo","i":242,"v":0.724},{"s":"ppo","i":243,"v":0.743},{"s":"ppo","i":244,"v":0.733},{"s":"ppo","i":245,"v":0.755},{"s":"ppo","i":246,"v":0.761},{"s":"ppo","i":248,"v":0.759},{"s":"ppo","i":249,"v":0.782},{"s":"ppo","i":250,"v":0.794},{"s":"ppo","i":251,"v":0.806},{"s":"ppo","i":252,"v":0.800},{"s":"ppo","i":253,"v":0.816},{"s":"ppo","i":255,"v":0.816},{"s":"ppo","i":256,"v":0.816},{"s":"ppo","i":257,"v":0.804},{"s":"ppo","i":258,"v":0.802},{"s":"ppo","i":259,"v":0.812},{"s":"ppo","i":260,"v":0.829},{"s":"ppo","i":261,"v":0.831},{"s":"ppo","i":262,"v":0.821},{"s":"ppo","i":263,"v":0.874},{"s":"ppo","i":264,"v":0.880},{"s":"ppo","i":265,"v":0.874},{"s":"ppo","i":266,"v":0.878},{"s":"ppo","i":267,"v":0.872},{"s":"ppo","i":269,"v":0.868},{"s":"ppo","i":270,"v":0.868},{"s":"ppo","i":271,"v":0.878},{"s":"ppo","i":272,"v":0.884},{"s":"ppo","i":273,"v":0.888},{"s":"ppo","i":274,"v":0.874},{"s":"ppo","i":275,"v":0.876},{"s":"ppo","i":276,"v":0.898},{"s":"ppo","i":277,"v":0.890},{"s":"ppo","i":278,"v":0.886},{"s":"ppo","i":280,"v":0.857},{"s":"ppo","i":281,"v":0.849},{"s":"ppo","i":282,"v":0.847},{"s":"ppo","i":283,"v":0.849},{"s":"ppo","i":284,"v":0.857},{"s":"ppo","i":285,"v":0.870},{"s":"ppo","i":286,"v":0.859},{"s":"ppo","i":287,"v":0.841},{"s":"ppo","i":288,"v":0.827},{"s":"ppo","i":289,"v":0.821},{"s":"ppo","i":290,"v":0.823},{"s":"ppo","i":291,"v":0.839},{"s":"ppo","i":292,"v":0.833},{"s":"ppo","i":293,"v":0.831},{"s":"ppo","i":294,"v":0.831},{"s":"ppo","i":295,"v":0.825},{"s":"ppo","i":296,"v":0.833},{"s":"ppo","i":297,"v":0.835},{"s":"ppo","i":298,"v":0.839},{"s":"ppo","i":300,"v":0.833},{"s":"ppo","i":301,"v":0.849},{"s":"ppo","i":302,"v":0.857},{"s":"ppo","i":303,"v":0.868},{"s":"ppo","i":305,"v":0.878},{"s":"ppo","i":306,"v":0.886},{"s":"ppo","i":307,"v":0.866},{"s":"ppo","i":308,"v":0.851},{"s":"ppo","i":309,"v":0.847},{"s":"ppo","i":310,"v":0.849},{"s":"ppo","i":311,"v":0.861},{"s":"ppo","i":313,"v":0.861},{"s":"ppo","i":314,"v":0.870},{"s":"ppo","i":315,"v":0.870},{"s":"ppo","i":316,"v":0.872},{"s":"ppo","i":317,"v":0.884},{"s":"ppo","i":318,"v":0.890},{"s":"ppo","i":319,"v":0.896},{"s":"ppo","i":320,"v":0.892},{"s":"ppo","i":321,"v":0.890},{"s":"ppo","i":322,"v":0.898},{"s":"ppo","i":323,"v":0.894},{"s":"ppo","i":324,"v":0.888},{"s":"ppo","i":326,"v":0.898},{"s":"ppo","i":327,"v":0.896},{"s":"ppo","i":328,"v":0.902},{"s":"ppo","i":329,"v":0.890},{"s":"ppo","i":330,"v":0.886},{"s":"ppo","i":331,"v":0.868},{"s":"ppo","i":332,"v":0.868},{"s":"ppo","i":333,"v":0.872},{"s":"ppo","i":334,"v":0.866},{"s":"ppo","i":335,"v":0.870},

{"s":"sac","i":0,"v":1.005},{"s":"sac","i":1,"v":0.996},{"s":"sac","i":3,"v":1.007},{"s":"sac","i":4,"v":1.013},{"s":"sac","i":6,"v":1.019},{"s":"sac","i":8,"v":1.026},{"s":"sac","i":10,"v":1.029},{"s":"sac","i":12,"v":1.023},{"s":"sac","i":13,"v":1.003},{"s":"sac","i":15,"v":1.001},{"s":"sac","i":17,"v":0.996},{"s":"sac","i":18,"v":0.984},{"s":"sac","i":20,"v":0.978},{"s":"sac","i":22,"v":0.980},{"s":"sac","i":23,"v":0.960},{"s":"sac","i":24,"v":0.941},{"s":"sac","i":25,"v":0.933},{"s":"sac","i":26,"v":0.951},{"s":"sac","i":28,"v":0.951},{"s":"sac","i":29,"v":0.972},{"s":"sac","i":32,"v":0.988},{"s":"sac","i":34,"v":0.992},{"s":"sac","i":36,"v":0.996},{"s":"sac","i":38,"v":0.986},{"s":"sac","i":40,"v":1.001},{"s":"sac","i":41,"v":1.009},{"s":"sac","i":43,"v":1.021},{"s":"sac","i":45,"v":1.021},{"s":"sac","i":47,"v":1.025},{"s":"sac","i":49,"v":1.027},{"s":"sac","i":51,"v":1.033},{"s":"sac","i":53,"v":1.037},{"s":"sac","i":55,"v":1.033},{"s":"sac","i":56,"v":1.031},{"s":"sac","i":58,"v":1.009},{"s":"sac","i":60,"v":0.992},{"s":"sac","i":61,"v":0.988},{"s":"sac","i":63,"v":0.974},{"s":"sac","i":64,"v":0.984},{"s":"sac","i":66,"v":1.015},{"s":"sac","i":68,"v":1.035},{"s":"sac","i":69,"v":1.013},{"s":"sac","i":71,"v":1.005},{"s":"sac","i":72,"v":1.015},{"s":"sac","i":73,"v":1.019},{"s":"sac","i":75,"v":1.005},{"s":"sac","i":76,"v":0.998},{"s":"sac","i":78,"v":1.005},{"s":"sac","i":79,"v":0.992},{"s":"sac","i":81,"v":0.980},{"s":"sac","i":82,"v":0.976},{"s":"sac","i":84,"v":0.996},{"s":"sac","i":86,"v":0.986},{"s":"sac","i":87,"v":0.988},{"s":"sac","i":89,"v":0.976},{"s":"sac","i":90,"v":0.960},{"s":"sac","i":92,"v":0.968},{"s":"sac","i":94,"v":0.960},{"s":"sac","i":95,"v":0.956},{"s":"sac","i":97,"v":0.988},{"s":"sac","i":98,"v":1.001},{"s":"sac","i":100,"v":1.005},{"s":"sac","i":101,"v":0.996},{"s":"sac","i":103,"v":1.005},{"s":"sac","i":105,"v":1.013},{"s":"sac","i":106,"v":1.027},{"s":"sac","i":108,"v":1.015},{"s":"sac","i":109,"v":1.021},{"s":"sac","i":110,"v":1.027},{"s":"sac","i":112,"v":1.025},{"s":"sac","i":114,"v":1.021},{"s":"sac","i":115,"v":1.019},{"s":"sac","i":117,"v":1.027},{"s":"sac","i":118,"v":1.023},{"s":"sac","i":120,"v":1.023},{"s":"sac","i":121,"v":1.033},{"s":"sac","i":122,"v":1.021},{"s":"sac","i":123,"v":0.998},{"s":"sac","i":124,"v":1.001},{"s":"sac","i":125,"v":0.994},{"s":"sac","i":127,"v":0.998},{"s":"sac","i":129,"v":0.980},{"s":"sac","i":130,"v":0.984},{"s":"sac","i":131,"v":1.005},{"s":"sac","i":132,"v":0.984},{"s":"sac","i":134,"v":0.970},{"s":"sac","i":135,"v":0.970},{"s":"sac","i":137,"v":0.972},{"s":"sac","i":139,"v":0.978},{"s":"sac","i":140,"v":0.994},{"s":"sac","i":141,"v":0.976},{"s":"sac","i":142,"v":0.974},{"s":"sac","i":144,"v":0.986},{"s":"sac","i":145,"v":0.990},{"s":"sac","i":148,"v":1.011},{"s":"sac","i":149,"v":1.005},{"s":"sac","i":151,"v":1.001},{"s":"sac","i":152,"v":0.996},{"s":"sac","i":153,"v":1.003},{"s":"sac","i":155,"v":0.996},{"s":"sac","i":157,"v":0.974},{"s":"sac","i":158,"v":0.956},{"s":"sac","i":160,"v":0.949},{"s":"sac","i":161,"v":0.929},{"s":"sac","i":162,"v":0.915},{"s":"sac","i":163,"v":0.931},{"s":"sac","i":164,"v":0.937},{"s":"sac","i":166,"v":0.947},{"s":"sac","i":167,"v":0.960},{"s":"sac","i":168,"v":0.949},{"s":"sac","i":169,"v":0.947},{"s":"sac","i":170,"v":0.951},{"s":"sac","i":172,"v":0.954},{"s":"sac","i":174,"v":0.958},{"s":"sac","i":175,"v":0.956},{"s":"sac","i":177,"v":0.951},{"s":"sac","i":179,"v":0.949},{"s":"sac","i":180,"v":0.960},{"s":"sac","i":182,"v":0.968},{"s":"sac","i":183,"v":0.972},{"s":"sac","i":184,"v":0.972},{"s":"sac","i":186,"v":0.974},{"s":"sac","i":187,"v":0.982},{"s":"sac","i":189,"v":0.988},{"s":"sac","i":190,"v":0.992},{"s":"sac","i":192,"v":0.988},{"s":"sac","i":193,"v":0.992},{"s":"sac","i":194,"v":0.990},{"s":"sac","i":196,"v":0.992},{"s":"sac","i":197,"v":0.996},{"s":"sac","i":198,"v":1.009},{"s":"sac","i":200,"v":1.029},{"s":"sac","i":202,"v":1.037},{"s":"sac","i":203,"v":1.035},{"s":"sac","i":204,"v":1.031},{"s":"sac","i":206,"v":1.019},{"s":"sac","i":207,"v":1.013},{"s":"sac","i":208,"v":1.013},{"s":"sac","i":209,"v":1.017},{"s":"sac","i":210,"v":0.996},{"s":"sac","i":211,"v":0.988},{"s":"sac","i":213,"v":0.978},{"s":"sac","i":214,"v":0.986},{"s":"sac","i":215,"v":0.984},{"s":"sac","i":216,"v":0.976},{"s":"sac","i":217,"v":0.986},{"s":"sac","i":219,"v":1.001},{"s":"sac","i":220,"v":0.996},{"s":"sac","i":221,"v":0.964},{"s":"sac","i":222,"v":0.962},{"s":"sac","i":224,"v":0.962},{"s":"sac","i":225,"v":0.962},{"s":"sac","i":226,"v":0.951},{"s":"sac","i":227,"v":0.939},{"s":"sac","i":228,"v":0.929},{"s":"sac","i":229,"v":0.919},{"s":"sac","i":230,"v":0.906},{"s":"sac","i":231,"v":0.915},{"s":"sac","i":232,"v":0.911},{"s":"sac","i":233,"v":0.904},{"s":"sac","i":234,"v":0.894},{"s":"sac","i":235,"v":0.919},{"s":"sac","i":236,"v":0.935},{"s":"sac","i":237,"v":0.935},{"s":"sac","i":238,"v":0.925},{"s":"sac","i":239,"v":0.917},{"s":"sac","i":240,"v":0.921},{"s":"sac","i":241,"v":0.927},{"s":"sac","i":242,"v":0.929},{"s":"sac","i":243,"v":0.947},{"s":"sac","i":244,"v":0.956},{"s":"sac","i":245,"v":0.966},{"s":"sac","i":247,"v":0.964},{"s":"sac","i":248,"v":0.968},{"s":"sac","i":249,"v":0.984},{"s":"sac","i":250,"v":0.996},{"s":"sac","i":252,"v":1.013},{"s":"sac","i":253,"v":1.025},{"s":"sac","i":254,"v":1.058},{"s":"sac","i":255,"v":1.054},{"s":"sac","i":256,"v":1.046},{"s":"sac","i":257,"v":1.037},{"s":"sac","i":258,"v":1.031},{"s":"sac","i":260,"v":1.046},{"s":"sac","i":261,"v":1.060},{"s":"sac","i":262,"v":1.048},{"s":"sac","i":263,"v":1.066},{"s":"sac","i":264,"v":1.058},{"s":"sac","i":266,"v":1.060},{"s":"sac","i":267,"v":1.064},{"s":"sac","i":269,"v":1.068},{"s":"sac","i":270,"v":1.078},{"s":"sac","i":272,"v":1.082},{"s":"sac","i":273,"v":1.086},{"s":"sac","i":274,"v":1.076},{"s":"sac","i":275,"v":1.088},{"s":"sac","i":276,"v":1.093},{"s":"sac","i":278,"v":1.095},{"s":"sac","i":280,"v":1.080},{"s":"sac","i":281,"v":1.072},{"s":"sac","i":282,"v":1.076},{"s":"sac","i":283,"v":1.070},{"s":"sac","i":284,"v":1.074},{"s":"sac","i":285,"v":1.072},{"s":"sac","i":286,"v":1.068},{"s":"sac","i":287,"v":1.054},{"s":"sac","i":288,"v":1.046},{"s":"sac","i":289,"v":1.039},{"s":"sac","i":290,"v":1.046},{"s":"sac","i":291,"v":1.052},{"s":"sac","i":292,"v":1.046},{"s":"sac","i":293,"v":1.050},{"s":"sac","i":294,"v":1.046},{"s":"sac","i":295,"v":1.041},{"s":"sac","i":296,"v":1.048},{"s":"sac","i":297,"v":1.046},{"s":"sac","i":298,"v":1.050},{"s":"sac","i":300,"v":1.054},{"s":"sac","i":301,"v":1.076},{"s":"sac","i":302,"v":1.072},{"s":"sac","i":303,"v":1.076},{"s":"sac","i":304,"v":1.080},{"s":"sac","i":306,"v":1.082},{"s":"sac","i":307,"v":1.068},{"s":"sac","i":308,"v":1.056},{"s":"sac","i":309,"v":1.064},{"s":"sac","i":310,"v":1.068},{"s":"sac","i":312,"v":1.068},{"s":"sac","i":313,"v":1.070},{"s":"sac","i":315,"v":1.072},{"s":"sac","i":316,"v":1.066},{"s":"sac","i":317,"v":1.064},{"s":"sac","i":318,"v":1.060},{"s":"sac","i":319,"v":1.058},{"s":"sac","i":320,"v":1.054},{"s":"sac","i":321,"v":1.050},{"s":"sac","i":322,"v":1.046},{"s":"sac","i":323,"v":1.041},{"s":"sac","i":324,"v":1.048},{"s":"sac","i":326,"v":1.052},{"s":"sac","i":327,"v":1.054},{"s":"sac","i":328,"v":1.052},{"s":"sac","i":329,"v":1.041},{"s":"sac","i":330,"v":1.033},{"s":"sac","i":331,"v":1.037},{"s":"sac","i":332,"v":1.033},{"s":"sac","i":333,"v":1.031},{"s":"sac","i":334,"v":1.023},{"s":"sac","i":335,"v":1.025},

{"s":"mean var","i":0,"v":1.003},{"s":"mean var","i":1,"v":1.005},{"s":"mean var","i":3,"v":1.005},{"s":"mean var","i":4,"v":1.001},{"s":"mean var","i":6,"v":1.017},{"s":"mean var","i":8,"v":1.017},{"s":"mean var","i":10,"v":1.021},{"s":"mean var","i":12,"v":1.005},{"s":"mean var","i":13,"v":1.003},{"s":"mean var","i":14,"v":1.013},{"s":"mean var","i":15,"v":1.041},{"s":"mean var","i":17,"v":1.050},{"s":"mean var","i":18,"v":1.048},{"s":"mean var","i":20,"v":1.054},{"s":"mean var","i":21,"v":1.041},{"s":"mean var","i":22,"v":1.031},{"s":"mean var","i":23,"v":1.046},{"s":"mean var","i":24,"v":1.039},{"s":"mean var","i":25,"v":1.035},{"s":"mean var","i":27,"v":1.041},{"s":"mean var","i":28,"v":1.078},{"s":"mean var","i":30,"v":1.082},{"s":"mean var","i":32,"v":1.099},{"s":"mean var","i":33,"v":1.082},{"s":"mean var","i":35,"v":1.097},{"s":"mean var","i":36,"v":1.076},{"s":"mean var","i":38,"v":1.054},{"s":"mean var","i":40,"v":1.074},{"s":"mean var","i":41,"v":1.095},{"s":"mean var","i":42,"v":1.103},{"s":"mean var","i":44,"v":1.107},{"s":"mean var","i":45,"v":1.105},{"s":"mean var","i":47,"v":1.106},{"s":"mean var","i":49,"v":1.095},{"s":"mean var","i":50,"v":1.066},{"s":"mean var","i":52,"v":1.043},{"s":"mean var","i":53,"v":1.048},{"s":"mean var","i":55,"v":1.033},{"s":"mean var","i":57,"v":1.021},{"s":"mean var","i":59,"v":0.992},{"s":"mean var","i":60,"v":0.982},{"s":"mean var","i":61,"v":0.996},{"s":"mean var","i":62,"v":0.981},{"s":"mean var","i":64,"v":0.980},{"s":"mean var","i":66,"v":1.013},{"s":"mean var","i":67,"v":1.025},{"s":"mean var","i":69,"v":1.023},{"s":"mean var","i":70,"v":1.019},{"s":"mean var","i":71,"v":1.021},{"s":"mean var","i":73,"v":1.041},{"s":"mean var","i":74,"v":1.021},{"s":"mean var","i":75,"v":1.001},{"s":"mean var","i":77,"v":1.011},{"s":"mean var","i":78,"v":1.009},{"s":"mean var","i":80,"v":0.990},{"s":"mean var","i":81,"v":0.956},{"s":"mean var","i":82,"v":0.935},{"s":"mean var","i":84,"v":0.962},{"s":"mean var","i":85,"v":0.960},{"s":"mean var","i":87,"v":0.980},{"s":"mean var","i":88,"v":0.974},{"s":"mean var","i":89,"v":0.954},{"s":"mean var","i":91,"v":0.933},{"s":"mean var","i":92,"v":0.949},{"s":"mean var","i":94,"v":0.951},{"s":"mean var","i":95,"v":0.935},{"s":"mean var","i":97,"v":0.976},{"s":"mean var","i":98,"v":0.998},{"s":"mean var","i":100,"v":0.994},{"s":"mean var","i":101,"v":1.001},{"s":"mean var","i":102,"v":0.988},{"s":"mean var","i":104,"v":1.001},{"s":"mean var","i":106,"v":1.013},{"s":"mean var","i":108,"v":0.988},{"s":"mean var","i":109,"v":0.996},{"s":"mean var","i":110,"v":1.003},{"s":"mean var","i":112,"v":0.992},{"s":"mean var","i":113,"v":0.998},{"s":"mean var","i":114,"v":1.001},{"s":"mean var","i":115,"v":0.986},{"s":"mean var","i":117,"v":0.996},{"s":"mean var","i":118,"v":0.980},{"s":"mean var","i":120,"v":0.992},{"s":"mean var","i":121,"v":1.003},{"s":"mean var","i":122,"v":0.992},{"s":"mean var","i":123,"v":0.962},{"s":"mean var","i":124,"v":0.968},{"s":"mean var","i":125,"v":0.943},{"s":"mean var","i":127,"v":0.972},{"s":"mean var","i":128,"v":0.947},{"s":"mean var","i":130,"v":0.949},{"s":"mean var","i":131,"v":0.974},{"s":"mean var","i":132,"v":0.931},{"s":"mean var","i":133,"v":0.923},{"s":"mean var","i":135,"v":0.911},{"s":"mean var","i":136,"v":0.884},{"s":"mean var","i":137,"v":0.886},{"s":"mean var","i":138,"v":0.902},{"s":"mean var","i":140,"v":0.911},{"s":"mean var","i":141,"v":0.876},{"s":"mean var","i":142,"v":0.874},{"s":"mean var","i":143,"v":0.882},{"s":"mean var","i":144,"v":0.894},{"s":"mean var","i":146,"v":0.898},{"s":"mean var","i":148,"v":0.927},{"s":"mean var","i":149,"v":0.915},{"s":"mean var","i":151,"v":0.929},{"s":"mean var","i":152,"v":0.915},{"s":"mean var","i":153,"v":0.923},{"s":"mean var","i":155,"v":0.911},{"s":"mean var","i":157,"v":0.882},{"s":"mean var","i":158,"v":0.851},{"s":"mean var","i":160,"v":0.857},{"s":"mean var","i":161,"v":0.837},{"s":"mean var","i":162,"v":0.829},{"s":"mean var","i":163,"v":0.864},{"s":"mean var","i":164,"v":0.872},{"s":"mean var","i":166,"v":0.890},{"s":"mean var","i":167,"v":0.898},{"s":"mean var","i":168,"v":0.870},{"s":"mean var","i":169,"v":0.878},{"s":"mean var","i":170,"v":0.874},{"s":"mean var","i":171,"v":0.882},{"s":"mean var","i":172,"v":0.888},{"s":"mean var","i":174,"v":0.896},{"s":"mean var","i":175,"v":0.904},{"s":"mean var","i":176,"v":0.898},{"s":"mean var","i":177,"v":0.894},{"s":"mean var","i":179,"v":0.894},{"s":"mean var","i":180,"v":0.921},{"s":"mean var","i":181,"v":0.915},{"s":"mean var","i":182,"v":0.933},{"s":"mean var","i":184,"v":0.943},{"s":"mean var","i":185,"v":0.941},{"s":"mean var","i":186,"v":0.941},{"s":"mean var","i":187,"v":0.931},{"s":"mean var","i":188,"v":0.943},{"s":"mean var","i":189,"v":0.956},{"s":"mean var","i":191,"v":0.964},{"s":"mean var","i":192,"v":0.956},{"s":"mean var","i":193,"v":0.974},{"s":"mean var","i":194,"v":0.976},{"s":"mean var","i":196,"v":0.974},{"s":"mean var","i":197,"v":0.968},{"s":"mean var","i":198,"v":0.980},{"s":"mean var","i":199,"v":0.990},{"s":"mean var","i":200,"v":1.001},{"s":"mean var","i":202,"v":1.013},{"s":"mean var","i":203,"v":1.009},{"s":"mean var","i":205,"v":1.005},{"s":"mean var","i":206,"v":0.992},{"s":"mean var","i":207,"v":0.984},{"s":"mean var","i":208,"v":0.986},{"s":"mean var","i":209,"v":1.005},{"s":"mean var","i":210,"v":0.954},{"s":"mean var","i":211,"v":0.947},{"s":"mean var","i":213,"v":0.935},{"s":"mean var","i":214,"v":0.931},{"s":"mean var","i":215,"v":0.923},{"s":"mean var","i":216,"v":0.919},{"s":"mean var","i":217,"v":0.935},{"s":"mean var","i":218,"v":0.941},{"s":"mean var","i":219,"v":0.956},{"s":"mean var","i":220,"v":0.958},{"s":"mean var","i":221,"v":0.911},{"s":"mean var","i":222,"v":0.906},{"s":"mean var","i":223,"v":0.906},{"s":"mean var","i":224,"v":0.908},{"s":"mean var","i":225,"v":0.915},{"s":"mean var","i":226,"v":0.908},{"s":"mean var","i":228,"v":0.894},{"s":"mean var","i":229,"v":0.890},{"s":"mean var","i":230,"v":0.882},{"s":"mean var","i":231,"v":0.888},{"s":"mean var","i":232,"v":0.894},{"s":"mean var","i":233,"v":0.882},{"s":"mean var","i":234,"v":0.870},{"s":"mean var","i":235,"v":0.898},{"s":"mean var","i":236,"v":0.902},{"s":"mean var","i":237,"v":0.898},{"s":"mean var","i":238,"v":0.890},{"s":"mean var","i":239,"v":0.870},{"s":"mean var","i":240,"v":0.866},{"s":"mean var","i":242,"v":0.861},{"s":"mean var","i":243,"v":0.874},{"s":"mean var","i":244,"v":0.890},{"s":"mean var","i":245,"v":0.886},{"s":"mean var","i":246,"v":0.894},{"s":"mean var","i":247,"v":0.890},{"s":"mean var","i":248,"v":0.886},{"s":"mean var","i":249,"v":0.902},{"s":"mean var","i":250,"v":0.915},{"s":"mean var","i":251,"v":0.923},{"s":"mean var","i":253,"v":0.915},{"s":"mean var","i":254,"v":0.943},{"s":"mean var","i":255,"v":0.939},{"s":"mean var","i":256,"v":0.931},{"s":"mean var","i":257,"v":0.915},{"s":"mean var","i":258,"v":0.894},{"s":"mean var","i":260,"v":0.898},{"s":"mean var","i":261,"v":0.911},{"s":"mean var","i":262,"v":0.890},{"s":"mean var","i":263,"v":0.939},{"s":"mean var","i":264,"v":0.939},{"s":"mean var","i":265,"v":0.927},{"s":"mean var","i":267,"v":0.933},{"s":"mean var","i":268,"v":0.937},{"s":"mean var","i":269,"v":0.945},{"s":"mean var","i":270,"v":0.939},{"s":"mean var","i":271,"v":0.951},{"s":"mean var","i":273,"v":0.956},{"s":"mean var","i":274,"v":0.945},{"s":"mean var","i":275,"v":0.958},{"s":"mean var","i":276,"v":0.968},{"s":"mean var","i":277,"v":0.964},{"s":"mean var","i":278,"v":0.964},{"s":"mean var","i":280,"v":0.954},{"s":"mean var","i":281,"v":0.943},{"s":"mean var","i":282,"v":0.950},{"s":"mean var","i":283,"v":0.943},{"s":"mean var","i":284,"v":0.962},{"s":"mean var","i":285,"v":0.964},{"s":"mean var","i":286,"v":0.954},{"s":"mean var","i":287,"v":0.935},{"s":"mean var","i":288,"v":0.921},{"s":"mean var","i":289,"v":0.911},{"s":"mean var","i":290,"v":0.908},{"s":"mean var","i":291,"v":0.929},{"s":"mean var","i":292,"v":0.923},{"s":"mean var","i":293,"v":0.925},{"s":"mean var","i":294,"v":0.923},{"s":"mean var","i":295,"v":0.911},{"s":"mean var","i":296,"v":0.923},{"s":"mean var","i":297,"v":0.919},{"s":"mean var","i":298,"v":0.908},{"s":"mean var","i":299,"v":0.904},{"s":"mean var","i":300,"v":0.894},{"s":"mean var","i":301,"v":0.908},{"s":"mean var","i":302,"v":0.911},{"s":"mean var","i":303,"v":0.915},{"s":"mean var","i":304,"v":0.929},{"s":"mean var","i":305,"v":0.932},{"s":"mean var","i":306,"v":0.931},{"s":"mean var","i":308,"v":0.921},{"s":"mean var","i":309,"v":0.906},{"s":"mean var","i":310,"v":0.917},{"s":"mean var","i":312,"v":0.929},{"s":"mean var","i":313,"v":0.933},{"s":"mean var","i":314,"v":0.933},{"s":"mean var","i":315,"v":0.935},{"s":"mean var","i":316,"v":0.929},{"s":"mean var","i":317,"v":0.941},{"s":"mean var","i":318,"v":0.954},{"s":"mean var","i":319,"v":0.960},{"s":"mean var","i":320,"v":0.956},{"s":"mean var","i":321,"v":0.954},{"s":"mean var","i":322,"v":0.949},{"s":"mean var","i":323,"v":0.943},{"s":"mean var","i":324,"v":0.947},{"s":"mean var","i":326,"v":0.962},{"s":"mean var","i":327,"v":0.958},{"s":"mean var","i":328,"v":0.962},{"s":"mean var","i":329,"v":0.956},{"s":"mean var","i":330,"v":0.954},{"s":"mean var","i":331,"v":0.923},{"s":"mean var","i":332,"v":0.923},{"s":"mean var","i":333,"v":0.927},{"s":"mean var","i":334,"v":0.915},{"s":"mean var","i":335,"v":0.915},

{"s":"dji","i":0,"v":1.043},{"s":"dji","i":1,"v":1.035},{"s":"dji","i":3,"v":1.041},{"s":"dji","i":5,"v":1.050},{"s":"dji","i":7,"v":1.056},{"s":"dji","i":9,"v":1.062},{"s":"dji","i":11,"v":1.058},{"s":"dji","i":13,"v":1.052},{"s":"dji","i":15,"v":1.052},{"s":"dji","i":17,"v":1.054},{"s":"dji","i":19,"v":1.050},{"s":"dji","i":21,"v":1.041},{"s":"dji","i":22,"v":1.021},{"s":"dji","i":23,"v":1.033},{"s":"dji","i":24,"v":1.009},{"s":"dji","i":25,"v":0.994},{"s":"dji","i":26,"v":1.005},{"s":"dji","i":28,"v":1.041},{"s":"dji","i":31,"v":1.046},{"s":"dji","i":32,"v":1.050},{"s":"dji","i":34,"v":1.041},{"s":"dji","i":35,"v":1.046},{"s":"dji","i":37,"v":1.037},{"s":"dji","i":38,"v":1.021},{"s":"dji","i":39,"v":1.046},{"s":"dji","i":41,"v":1.058},{"s":"dji","i":43,"v":1.064},{"s":"dji","i":45,"v":1.068},{"s":"dji","i":46,"v":1.066},{"s":"dji","i":48,"v":1.070},{"s":"dji","i":50,"v":1.074},{"s":"dji","i":51,"v":1.058},{"s":"dji","i":52,"v":1.054},{"s":"dji","i":54,"v":1.058},{"s":"dji","i":55,"v":1.050},{"s":"dji","i":58,"v":1.021},{"s":"dji","i":60,"v":1.001},{"s":"dji","i":61,"v":1.003},{"s":"dji","i":63,"v":0.996},{"s":"dji","i":65,"v":1.021},{"s":"dji","i":67,"v":1.037},{"s":"dji","i":69,"v":1.025},{"s":"dji","i":70,"v":1.025},{"s":"dji","i":72,"v":1.027},{"s":"dji","i":73,"v":1.041},{"s":"dji","i":75,"v":1.021},{"s":"dji","i":76,"v":1.011},{"s":"dji","i":78,"v":1.013},{"s":"dji","i":79,"v":1.001},{"s":"dji","i":81,"v":0.984},{"s":"dji","i":82,"v":0.968},{"s":"dji","i":83,"v":0.986},{"s":"dji","i":85,"v":0.994},{"s":"dji","i":86,"v":0.984},{"s":"dji","i":88,"v":0.988},{"s":"dji","i":89,"v":0.976},{"s":"dji","i":90,"v":0.956},{"s":"dji","i":92,"v":0.964},{"s":"dji","i":94,"v":0.964},{"s":"dji","i":95,"v":0.962},{"s":"dji","i":96,"v":0.990},{"s":"dji","i":98,"v":1.009},{"s":"dji","i":100,"v":1.011},{"s":"dji","i":101,"v":1.009},{"s":"dji","i":102,"v":1.005},{"s":"dji","i":104,"v":1.013},{"s":"dji","i":106,"v":1.027},{"s":"dji","i":107,"v":1.013},{"s":"dji","i":109,"v":1.015},{"s":"dji","i":110,"v":1.017},{"s":"dji","i":112,"v":1.013},{"s":"dji","i":114,"v":1.011},{"s":"dji","i":116,"v":1.005},{"s":"dji","i":117,"v":1.013},{"s":"dji","i":119,"v":1.009},{"s":"dji","i":121,"v":1.023},{"s":"dji","i":122,"v":1.013},{"s":"dji","i":123,"v":0.986},{"s":"dji","i":124,"v":0.988},{"s":"dji","i":125,"v":0.968},{"s":"dji","i":127,"v":0.972},{"s":"dji","i":128,"v":0.962},{"s":"dji","i":130,"v":0.966},{"s":"dji","i":131,"v":1.005},{"s":"dji","i":132,"v":0.972},{"s":"dji","i":133,"v":0.964},{"s":"dji","i":135,"v":0.947},{"s":"dji","i":136,"v":0.927},{"s":"dji","i":138,"v":0.937},{"s":"dji","i":140,"v":0.947},{"s":"dji","i":141,"v":0.923},{"s":"dji","i":142,"v":0.911},{"s":"dji","i":143,"v":0.923},{"s":"dji","i":145,"v":0.931},{"s":"dji","i":148,"v":0.968},{"s":"dji","i":149,"v":0.958},{"s":"dji","i":151,"v":0.968},{"s":"dji","i":152,"v":0.958},{"s":"dji","i":153,"v":0.964},{"s":"dji","i":155,"v":0.954},{"s":"dji","i":157,"v":0.927},{"s":"dji","i":158,"v":0.890},{"s":"dji","i":160,"v":0.890},{"s":"dji","i":161,"v":0.878},{"s":"dji","i":162,"v":0.872},{"s":"dji","i":163,"v":0.890},{"s":"dji","i":164,"v":0.890},{"s":"dji","i":166,"v":0.904},{"s":"dji","i":167,"v":0.915},{"s":"dji","i":168,"v":0.904},{"s":"dji","i":169,"v":0.908},{"s":"dji","i":170,"v":0.904},{"s":"dji","i":171,"v":0.906},{"s":"dji","i":173,"v":0.911},{"s":"dji","i":174,"v":0.919},{"s":"dji","i":176,"v":0.911},{"s":"dji","i":177,"v":0.902},{"s":"dji","i":179,"v":0.894},{"s":"dji","i":180,"v":0.915},{"s":"dji","i":181,"v":0.908},{"s":"dji","i":182,"v":0.931},{"s":"dji","i":184,"v":0.935},{"s":"dji","i":185,"v":0.931},{"s":"dji","i":187,"v":0.929},{"s":"dji","i":188,"v":0.939},{"s":"dji","i":189,"v":0.947},{"s":"dji","i":191,"v":0.958},{"s":"dji","i":192,"v":0.947},{"s":"dji","i":193,"v":0.956},{"s":"dji","i":195,"v":0.956},{"s":"dji","i":196,"v":0.956},{"s":"dji","i":197,"v":0.962},{"s":"dji","i":198,"v":0.974},{"s":"dji","i":199,"v":0.984},{"s":"dji","i":200,"v":0.988},{"s":"dji","i":202,"v":0.996},{"s":"dji","i":203,"v":0.992},{"s":"dji","i":205,"v":0.988},{"s":"dji","i":206,"v":0.980},{"s":"dji","i":207,"v":0.976},{"s":"dji","i":208,"v":0.978},{"s":"dji","i":209,"v":0.988},{"s":"dji","i":210,"v":0.943},{"s":"dji","i":211,"v":0.939},{"s":"dji","i":213,"v":0.931},{"s":"dji","i":214,"v":0.927},{"s":"dji","i":216,"v":0.908},{"s":"dji","i":217,"v":0.921},{"s":"dji","i":218,"v":0.931},{"s":"dji","i":219,"v":0.939},{"s":"dji","i":220,"v":0.947},{"s":"dji","i":221,"v":0.908},{"s":"dji","i":222,"v":0.904},{"s":"dji","i":223,"v":0.904},{"s":"dji","i":225,"v":0.906},{"s":"dji","i":226,"v":0.894},{"s":"dji","i":228,"v":0.882},{"s":"dji","i":229,"v":0.876},{"s":"dji","i":230,"v":0.861},{"s":"dji","i":231,"v":0.857},{"s":"dji","i":232,"v":0.866},{"s":"dji","i":233,"v":0.857},{"s":"dji","i":234,"v":0.839},{"s":"dji","i":235,"v":0.866},{"s":"dji","i":236,"v":0.886},{"s":"dji","i":237,"v":0.878},{"s":"dji","i":238,"v":0.857},{"s":"dji","i":239,"v":0.853},{"s":"dji","i":241,"v":0.851},{"s":"dji","i":242,"v":0.853},{"s":"dji","i":243,"v":0.878},{"s":"dji","i":244,"v":0.864},{"s":"dji","i":245,"v":0.882},{"s":"dji","i":246,"v":0.890},{"s":"dji","i":248,"v":0.888},{"s":"dji","i":249,"v":0.911},{"s":"dji","i":250,"v":0.923},{"s":"dji","i":252,"v":0.929},{"s":"dji","i":253,"v":0.933},{"s":"dji","i":254,"v":0.968},{"s":"dji","i":255,"v":0.958},{"s":"dji","i":256,"v":0.954},{"s":"dji","i":257,"v":0.941},{"s":"dji","i":259,"v":0.935},{"s":"dji","i":260,"v":0.945},{"s":"dji","i":261,"v":0.958},{"s":"dji","i":262,"v":0.947},{"s":"dji","i":263,"v":0.982},{"s":"dji","i":264,"v":0.984},{"s":"dji","i":265,"v":0.978},{"s":"dji","i":267,"v":0.978},{"s":"dji","i":268,"v":0.980},{"s":"dji","i":270,"v":0.988},{"s":"dji","i":271,"v":0.996},{"s":"dji","i":272,"v":0.998},{"s":"dji","i":274,"v":0.986},{"s":"dji","i":275,"v":0.996},{"s":"dji","i":276,"v":1.009},{"s":"dji","i":277,"v":1.003},{"s":"dji","i":278,"v":1.005},{"s":"dji","i":280,"v":0.988},{"s":"dji","i":281,"v":0.980},{"s":"dji","i":282,"v":0.982},{"s":"dji","i":283,"v":0.976},{"s":"dji","i":284,"v":0.986},{"s":"dji","i":285,"v":0.992},{"s":"dji","i":286,"v":0.988},{"s":"dji","i":287,"v":0.968},{"s":"dji","i":288,"v":0.960},{"s":"dji","i":289,"v":0.956},{"s":"dji","i":290,"v":0.960},{"s":"dji","i":291,"v":0.974},{"s":"dji","i":292,"v":0.966},{"s":"dji","i":293,"v":0.970},{"s":"dji","i":294,"v":0.970},{"s":"dji","i":295,"v":0.960},{"s":"dji","i":296,"v":0.968},{"s":"dji","i":297,"v":0.966},{"s":"dji","i":298,"v":0.968},{"s":"dji","i":300,"v":0.962},{"s":"dji","i":301,"v":0.980},{"s":"dji","i":302,"v":0.976},{"s":"dji","i":303,"v":0.982},{"s":"dji","i":304,"v":0.990},{"s":"dji","i":306,"v":1.001},{"s":"dji","i":307,"v":0.986},{"s":"dji","i":308,"v":0.970},{"s":"dji","i":309,"v":0.964},{"s":"dji","i":310,"v":0.974},{"s":"dji","i":312,"v":0.982},{"s":"dji","i":313,"v":0.984},{"s":"dji","i":315,"v":0.990},{"s":"dji","i":316,"v":0.986},{"s":"dji","i":317,"v":0.994},{"s":"dji","i":318,"v":0.994},{"s":"dji","i":320,"v":0.992},{"s":"dji","i":321,"v":0.988},{"s":"dji","i":322,"v":0.996},{"s":"dji","i":323,"v":0.990},{"s":"dji","i":324,"v":0.984},{"s":"dji","i":326,"v":0.998},{"s":"dji","i":327,"v":0.994},{"s":"dji","i":328,"v":0.996},{"s":"dji","i":329,"v":0.988},{"s":"dji","i":330,"v":0.986},{"s":"dji","i":331,"v":0.966},{"s":"dji","i":332,"v":0.966},{"s":"dji","i":333,"v":0.968},{"s":"dji","i":334,"v":0.958},{"s":"dji","i":335,"v":0.960}
]},
"mark": {"type": "line", "strokeWidth": 2.1, "strokeJoin": "round", "clip": true},
"encoding": {
  "x": {"field": "i", "type": "quantitative",
        "scale": {"domain": [-16.75, 351.75], "nice": false, "zero": false},
        "axis": {"title": null, "values": [0, 50, 100, 150, 200, 250, 300, 350], "grid": false, "domain": false,
                 "tickColor": "#000", "tickWidth": 1.1, "tickSize": 4.9, "labelPadding": 3,
                 "labelFont": "DejaVu Sans", "labelFontSize": 13.9, "labelColor": "#000",
                 "labelExpr": "datum.value == 0 ? '2021-10-26' : datum.value == 50 ? '2022-01-06' : datum.value == 100 ? '2022-03-21' : datum.value == 150 ? '2022-06-01' : datum.value == 200 ? '2022-08-12' : datum.value == 250 ? '2022-10-24' : datum.value == 300 ? '2023-01-05' : ''"}},
  "y": {"field": "v", "type": "quantitative",
        "scale": {"domain": [0.7, 1.1716], "nice": false, "zero": false},
        "axis": {"title": "1e6", "titleAngle": 0, "titleAlign": "left", "titleBaseline": "alphabetic", "titleX": 0, "titleY": -3,
                 "titleFont": "DejaVu Sans", "titleFontSize": 13.9, "titleFontWeight": "normal", "titleColor": "#000",
                 "values": [0.7, 0.8, 0.9, 1.0, 1.1], "format": ".1f", "grid": false, "domain": false,
                 "tickColor": "#000", "tickWidth": 1.1, "tickSize": 4.9, "labelPadding": 3,
                 "labelFont": "DejaVu Sans", "labelFontSize": 13.9, "labelColor": "#000"}},
  "color": {"field": "s", "type": "nominal",
            "scale": {"domain": ["a2c", "ddpg", "td3", "ppo", "sac", "mean var", "dji"],
                      "range": ["#1f77b4", "#ff7f0e", "#2ca02c", "#d62728", "#9467bd", "#8c564b", "#e377c2"]},
            "legend": {"title": null, "orient": "none", "legendX": 7, "legendY": 222,
                       "symbolType": "stroke", "symbolSize": 625, "symbolStrokeWidth": 2.1,
                       "labelFont": "DejaVu Sans", "labelFontSize": 13.9, "labelColor": "#000", "labelOffset": 11,
                       "padding": 3, "rowPadding": 0.5, "fillColor": "rgba(255,255,255,0.8)", "strokeColor": "#cccccc",
                       "cornerRadius": 3}}
}
}
